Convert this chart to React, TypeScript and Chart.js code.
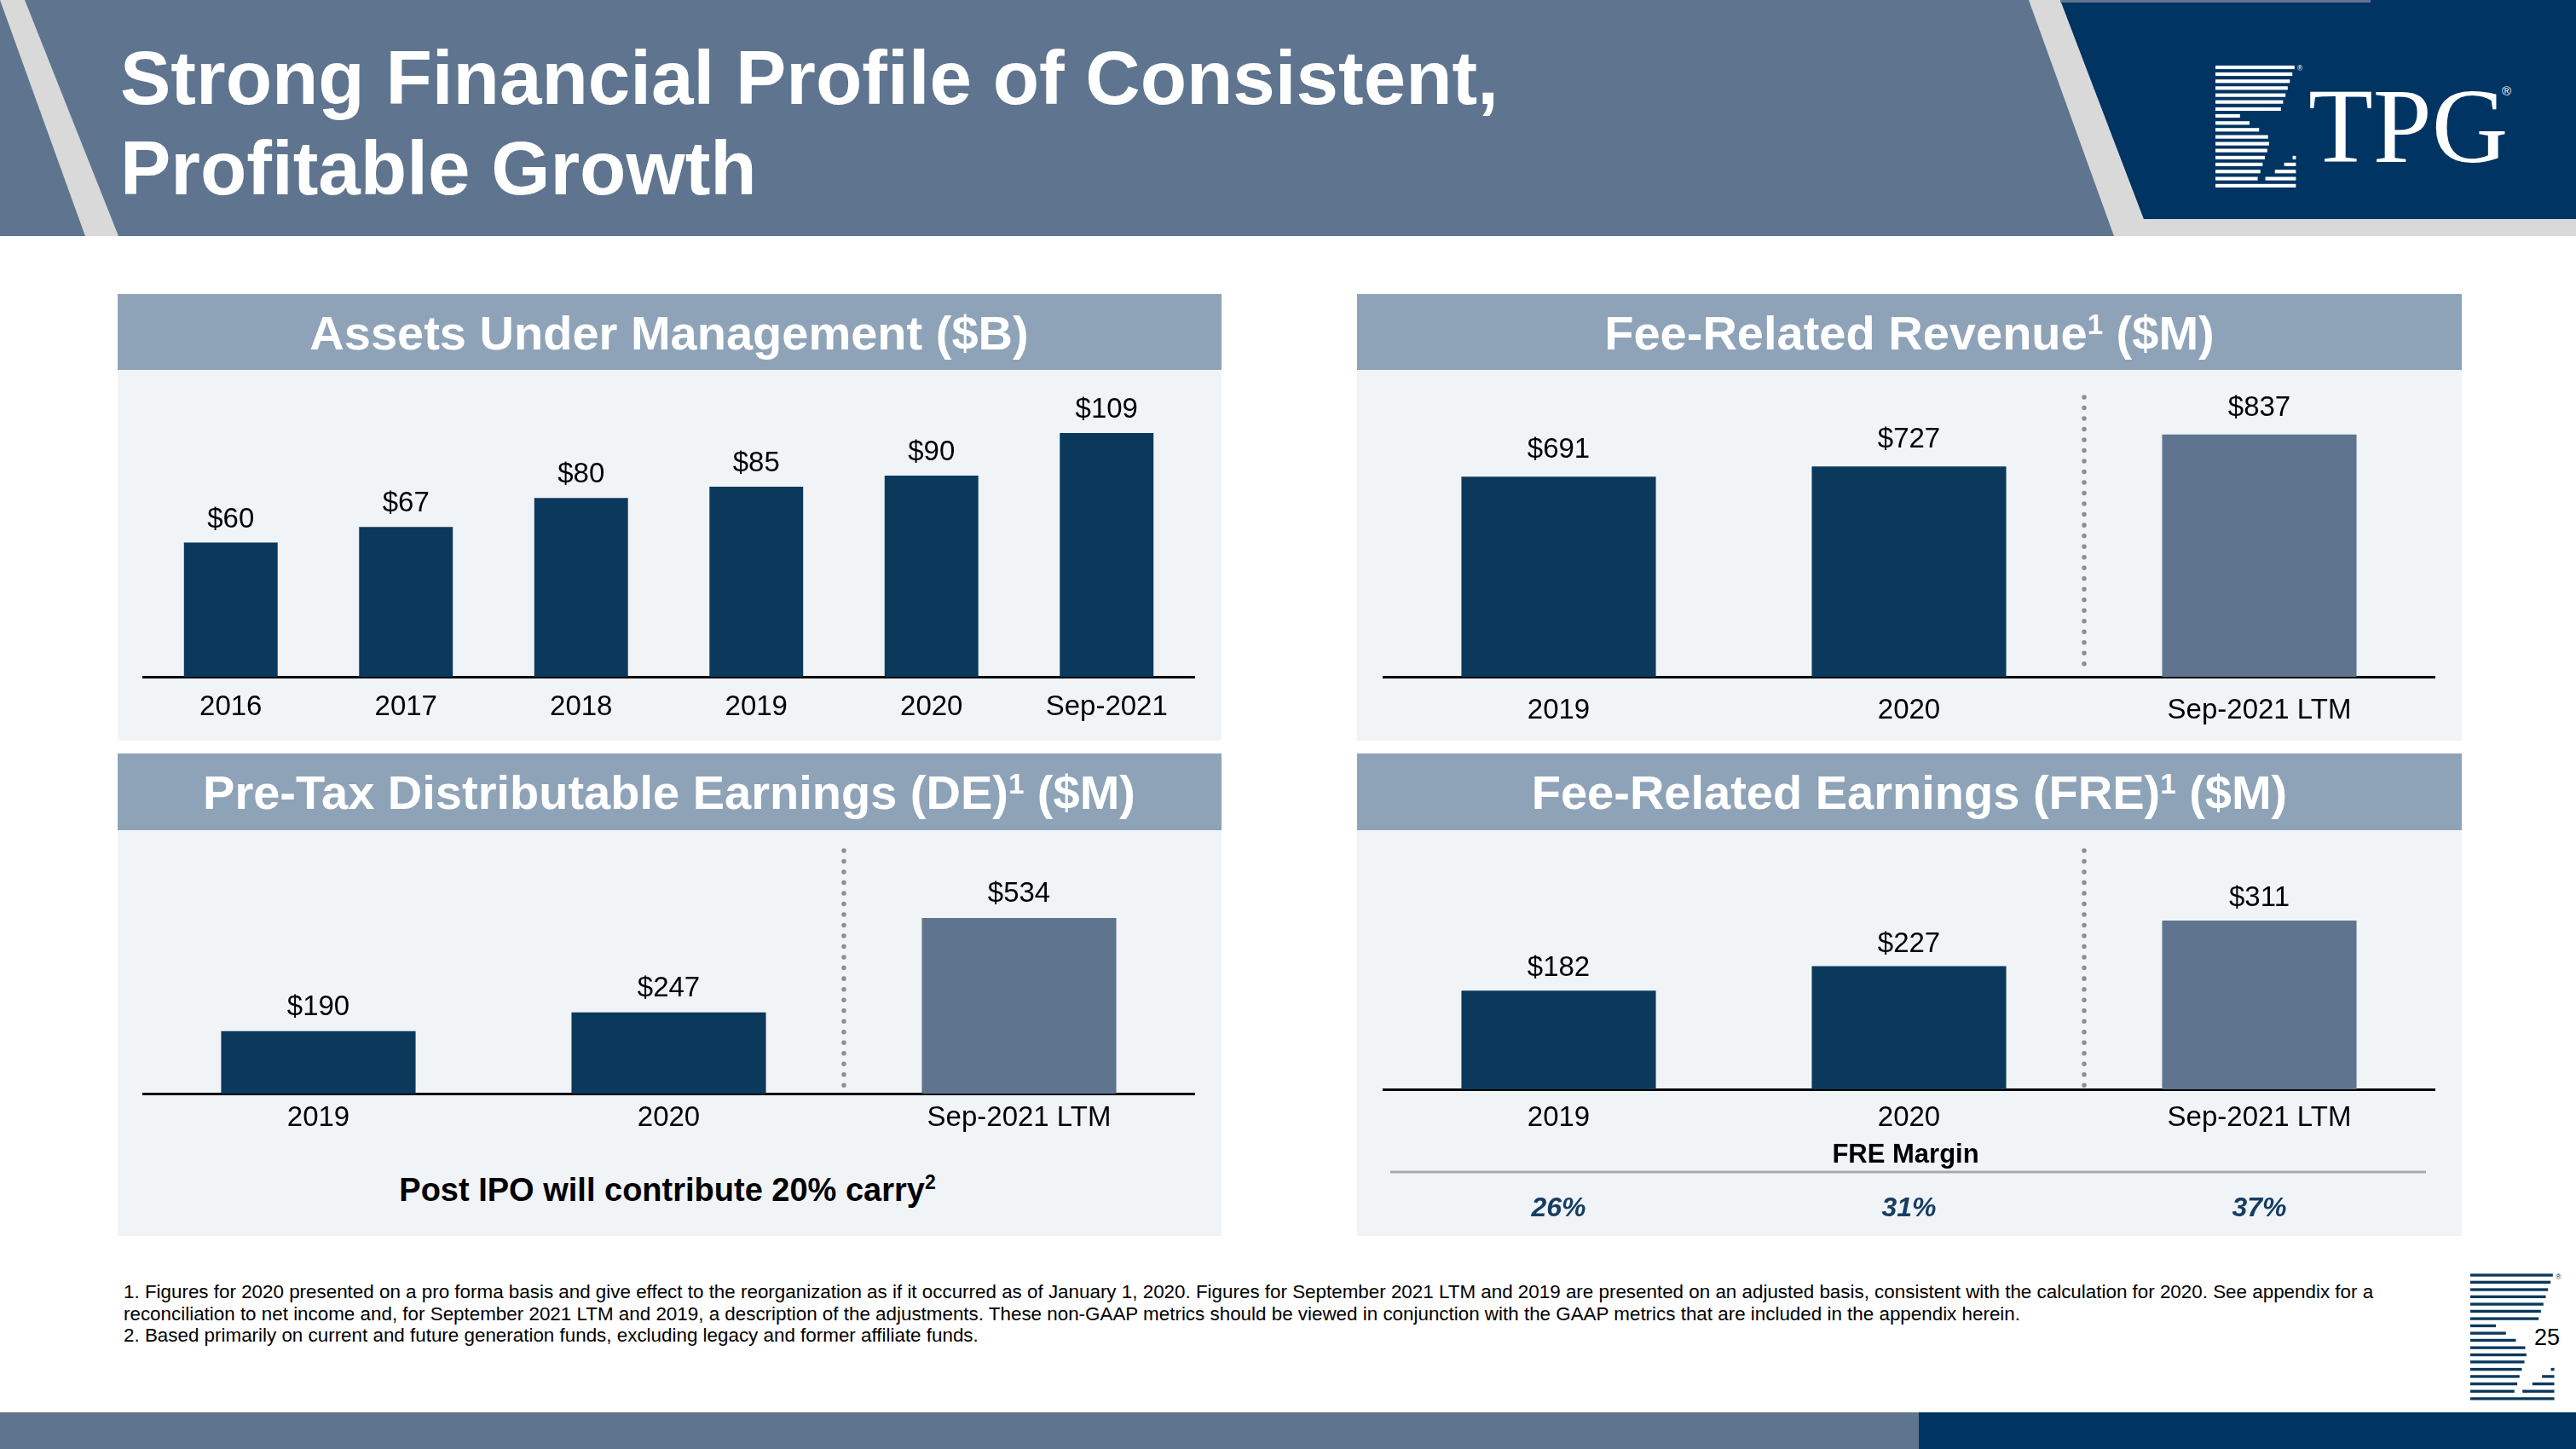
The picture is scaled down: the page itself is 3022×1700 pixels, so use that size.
import React, { useEffect, useRef } from "react";
import { Chart, registerables } from "chart.js";

Chart.register(...registerables);

const FONT = '"Liberation Sans", Arial, Helvetica, sans-serif';
const SERIF = '"Liberation Serif", "Times New Roman", serif';
const NAVY = "#0b395c";
const SLATE = "#5f758f";
const HEADER_NAVY = "#003462";
const PANEL_HEAD = "#8fa3b8";
const PANEL_BODY = "#f1f4f7";
const LIGHT = "#d9d9d9";

// ---------- data ----------
const aumYears = ["2016", "2017", "2018", "2019", "2020", "Sep-2021"];
const aumValues = [60, 67, 80, 85, 90, 109];
const periodLabels = ["2019", "2020", "Sep-2021 LTM"];
const feeRevenueValues = [691, 727, 837];
const deValues = [190, 247, 534];
const freValues = [182, 227, 311];
const freMarginLabels = ["26%", "31%", "37%"];
const aumColors = [NAVY, NAVY, NAVY, NAVY, NAVY, NAVY];
const periodColors = [NAVY, NAVY, SLATE];

const footnoteLines = [
  "1. Figures for 2020 presented on a pro forma basis and give effect to the reorganization as if it occurred as of January 1, 2020. Figures for September 2021 LTM and 2019 are presented on an adjusted basis, consistent with the calculation for 2020. See appendix for a",
  "reconciliation to net income and, for September 2021 LTM and 2019, a description of the adjustments. These non-GAAP metrics should be viewed in conjunction with the GAAP metrics that are included in the appendix herein.",
  "2. Based primarily on current and future generation funds, excluding legacy and former affiliate funds.",
];

type ChartSpec = {
  labels: string[];
  values: number[];
  colors: string[];
  areaLeft: number;
  areaRight: number;
  areaTop: number;
  areaBottom: number;
  yMax: number;
  barPct: number;
  tickPad: number;
  labelGap: number;
  axisHeight: number;
  separatorAfter?: number;
  margins?: string[];
};

const PAD_X = 20;
const PAD_TOP = 50;

function BarChart({ spec }: { spec: ChartSpec }) {
  const ref = useRef<HTMLCanvasElement>(null);
  const left = spec.areaLeft - PAD_X;
  const width = spec.areaRight - spec.areaLeft + 2 * PAD_X;
  const top = spec.areaTop - PAD_TOP;
  const height = spec.areaBottom - top + spec.axisHeight;

  useEffect(() => {
    const canvas = ref.current!;
    const valueLabels = {
      id: "valueLabels",
      afterDatasetsDraw(chart: any) {
        const meta = chart.getDatasetMeta(0);
        const data = chart.data.datasets[0].data as number[];
        const ctx = chart.ctx;
        ctx.save();
        ctx.font = `33px ${FONT}`;
        ctx.fillStyle = "#000";
        ctx.textAlign = "center";
        ctx.textBaseline = "alphabetic";
        meta.data.forEach((bar: any, i: number) => {
          ctx.fillText("$" + data[i], bar.x, bar.y - spec.labelGap);
        });
        ctx.restore();
      },
    };
    const separator = {
      id: "separator",
      afterDatasetsDraw(chart: any) {
        if (spec.separatorAfter === undefined) return;
        const xs = chart.scales.x;
        const i = spec.separatorAfter;
        const x = (xs.getPixelForValue(i) + xs.getPixelForValue(i + 1)) / 2;
        const { top: t, bottom: b } = chart.chartArea;
        const ctx = chart.ctx;
        ctx.save();
        ctx.strokeStyle = "#8e8e8e";
        ctx.lineWidth = 5.5;
        ctx.lineCap = "round";
        ctx.setLineDash([0.01, 12.5]);
        ctx.beginPath();
        ctx.moveTo(x, t);
        ctx.lineTo(x, b - 3);
        ctx.stroke();
        ctx.restore();
      },
    };
    const marginRow = {
      id: "marginRow",
      afterDraw(chart: any) {
        if (!spec.margins) return;
        const xs = chart.scales.x;
        const { left: l, right: r, bottom: b } = chart.chartArea;
        const ctx = chart.ctx;
        ctx.save();
        ctx.textAlign = "center";
        ctx.textBaseline = "alphabetic";
        ctx.fillStyle = "#000";
        ctx.font = `bold 31px ${FONT}`;
        ctx.fillText("FRE Margin", (l + r) / 2 - 4, b + 86);
        ctx.strokeStyle = "#a8a8a8";
        ctx.lineWidth = 3;
        ctx.beginPath();
        ctx.moveTo(l + 8, b + 97);
        ctx.lineTo(r - 10, b + 97);
        ctx.stroke();
        ctx.fillStyle = "#163d62";
        ctx.font = `italic bold 32px ${FONT}`;
        spec.margins.forEach((m, i) => {
          ctx.fillText(m, xs.getPixelForValue(i), b + 149);
        });
        ctx.restore();
      },
    };

    const chart = new Chart(canvas, {
      type: "bar",
      data: {
        labels: spec.labels,
        datasets: [
          {
            data: spec.values,
            backgroundColor: spec.colors,
            borderWidth: 0,
            barPercentage: spec.barPct,
            categoryPercentage: 1,
          },
        ],
      },
      options: {
        animation: false,
        responsive: false,
        maintainAspectRatio: false,
        layout: { padding: { left: PAD_X, right: PAD_X, top: PAD_TOP, bottom: 0 } },
        plugins: { legend: { display: false }, tooltip: { enabled: false } },
        scales: {
          x: {
            z: 1,
            grid: { display: false, drawTicks: false },
            border: { display: true, color: "#000", width: 3 },
            ticks: {
              color: "#000",
              font: { family: FONT, size: 33 },
              padding: spec.tickPad,
              maxRotation: 0,
              autoSkip: false,
            },
            afterFit: (scale: any) => {
              scale.height = spec.axisHeight;
            },
          },
          y: { display: false, min: 0, max: spec.yMax },
        },
      } as any,
      plugins: [valueLabels, separator, marginRow],
    });
    return () => chart.destroy();
  }, []);

  return (
    <canvas
      ref={ref}
      width={width}
      height={height}
      style={{ position: "absolute", left, top, width, height }}
    />
  );
}

const specs: ChartSpec[] = [
  {
    labels: aumYears, values: aumValues, colors: aumColors,
    areaLeft: 168, areaRight: 1401, areaTop: 453, areaBottom: 794,
    yMax: 130, barPct: 0.535, tickPad: 16, labelGap: 18, axisHeight: 62,
  },
  {
    labels: periodLabels, values: feeRevenueValues, colors: periodColors,
    areaLeft: 1623, areaRight: 2856, areaTop: 466, areaBottom: 794,
    yMax: 966, barPct: 0.555, tickPad: 20, labelGap: 22, axisHeight: 66,
    separatorAfter: 1,
  },
  {
    labels: periodLabels, values: deValues, colors: periodColors,
    areaLeft: 168, areaRight: 1401, areaTop: 998, areaBottom: 1283,
    yMax: 739, barPct: 0.555, tickPad: 9, labelGap: 19, axisHeight: 58,
    separatorAfter: 1,
  },
  {
    labels: periodLabels, values: freValues, colors: periodColors,
    areaLeft: 1623, areaRight: 2856, areaTop: 998, areaBottom: 1278,
    yMax: 440, barPct: 0.555, tickPad: 14, labelGap: 17, axisHeight: 170,
    separatorAfter: 1, margins: freMarginLabels,
  },
];

// TPG mark stripes: [y, x1, x2] in mark units
const markStripes: number[][] = [
  [0, 0, 290], [25, 0, 282], [51, 0, 273], [76, 0, 265], [102, 0, 257],
  [127, 0, 248], [153, 0, 240], [178, 0, 90], [204, 0, 125], [229, 0, 160],
  [255, 0, 193], [280, 0, 197], [305, 0, 190], [331, 0, 181], [356, 0, 173],
  [382, 0, 165], [408, 0, 155], [434, 0, 295],
];
const markRightPieces: number[][] = [
  [331, 283, 295], [356, 252, 295], [382, 218, 295], [408, 183, 295],
];

function Mark({ x, y, s, color, thick }: { x: number; y: number; s: number; color: string; thick: number }) {
  return (
    <g transform={`translate(${x},${y}) scale(${s})`}>
      {markStripes.map(([yy, a, b], i) => (
        <rect key={i} x={a} y={yy - thick / 2} width={b - a} height={thick} fill={color} />
      ))}
      {markRightPieces.map(([yy, a, b], i) => (
        <rect key={"r" + i} x={a} y={yy - thick / 2} width={b - a} height={thick} fill={color} />
      ))}
      <text x={300} y={14} fontSize={26} fill={color} fontFamily={FONT}>®</text>
    </g>
  );
}

function PanelTitle({ cx, y, children }: { cx: number; y: number; children: React.ReactNode }) {
  return (
    <text x={cx} y={y} textAnchor="middle" fontFamily={FONT} fontWeight="bold" fontSize={56} fill="#fff">
      {children}
    </text>
  );
}

export default function App() {
  return (
    <div style={{ position: "fixed", left: 0, top: 0, width: 3022, height: 1700, background: "#fff", overflow: "hidden" }}>
      <svg width={3022} height={1700} style={{ position: "absolute", left: 0, top: 0 }}>
        {/* header */}
        <rect x={0} y={0} width={3022} height={277} fill={SLATE} />
        <polygon points="0,0 29,0 139,277 100,277" fill={LIGHT} />
        <polygon points="2380,0 2417,0 2515,257 3022,257 3022,277 2480,277" fill={LIGHT} />
        <polygon points="2417,0 3022,0 3022,257 2515,257" fill={HEADER_NAVY} />
        <rect x={2417} y={0} width={364} height={3} fill={SLATE} />
        <text x={141} y={122} fontFamily={FONT} fontWeight="bold" fontSize={89} fill="#fff">
          Strong Financial Profile of Consistent,
        </text>
        <text x={141} y={228} fontFamily={FONT} fontWeight="bold" fontSize={89} fill="#fff">
          Profitable Growth
        </text>
        <Mark x={2599} y={79} s={0.32} color="#fff" thick={13} />
        <text x={2708} y={190} fontFamily={SERIF} fontSize={124} fill="#fff">TPG</text>
        <text x={2935} y={112} fontFamily={FONT} fontSize={15} fill="#fff">®</text>

        {/* panels */}
        <rect x={138} y={345} width={1295} height={89} fill={PANEL_HEAD} />
        <rect x={138} y={434} width={1295} height={435} fill={PANEL_BODY} />
        <rect x={1592} y={345} width={1296} height={89} fill={PANEL_HEAD} />
        <rect x={1592} y={434} width={1296} height={435} fill={PANEL_BODY} />
        <rect x={138} y={884} width={1295} height={90} fill={PANEL_HEAD} />
        <rect x={138} y={974} width={1295} height={476} fill={PANEL_BODY} />
        <rect x={1592} y={884} width={1296} height={90} fill={PANEL_HEAD} />
        <rect x={1592} y={974} width={1296} height={476} fill={PANEL_BODY} />

        <PanelTitle cx={785} y={410}>Assets Under Management ($B)</PanelTitle>
        <PanelTitle cx={2240} y={410}>
          Fee-Related Revenue<tspan dy={-18} fontSize={33}>1</tspan><tspan dy={18}> ($M)</tspan>
        </PanelTitle>
        <PanelTitle cx={785} y={949}>
          Pre-Tax Distributable Earnings (DE)<tspan dy={-18} fontSize={33}>1</tspan><tspan dy={18}> ($M)</tspan>
        </PanelTitle>
        <PanelTitle cx={2240} y={949}>
          Fee-Related Earnings (FRE)<tspan dy={-18} fontSize={33}>1</tspan><tspan dy={18}> ($M)</tspan>
        </PanelTitle>

        <text x={783} y={1409} textAnchor="middle" fontFamily={FONT} fontWeight="bold" fontSize={38} fill="#000">
          Post IPO will contribute 20% carry<tspan dy={-14} fontSize={23}>2</tspan>
        </text>

        {/* footnotes */}
        {footnoteLines.map((t, i) => (
          <text key={i} x={145} y={1523 + i * 25.5} fontFamily={FONT} fontSize={22.4} fill="#000">{t}</text>
        ))}
        <Mark x={2898} y={1496} s={0.334} color={NAVY} thick={10} />
        <text x={2988} y={1578} textAnchor="middle" fontFamily={FONT} fontSize={27} fill="#000">25</text>

        {/* bottom bar */}
        <rect x={0} y={1657} width={2251} height={43} fill={SLATE} />
        <rect x={2251} y={1657} width={771} height={43} fill={HEADER_NAVY} />
      </svg>
      {specs.map((s, i) => (
        <BarChart key={i} spec={s} />
      ))}
    </div>
  );
}
